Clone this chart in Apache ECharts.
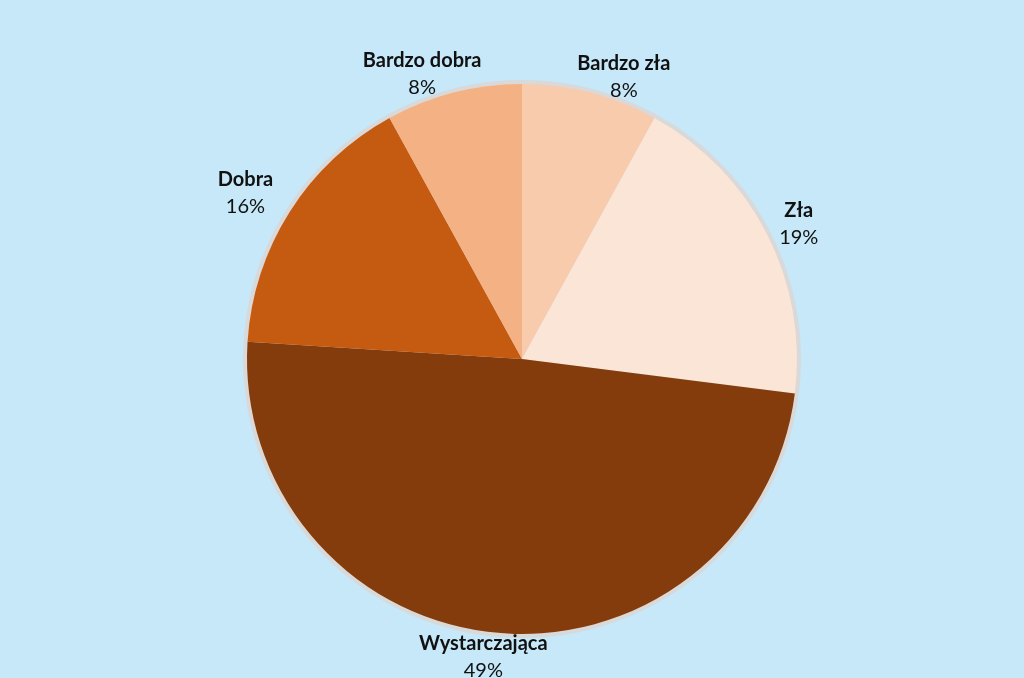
<!DOCTYPE html>
<html>
<head>
<meta charset="utf-8">
<script src="https://cdn.jsdelivr.net/npm/echarts@6/dist/echarts.min.js"></script>
<style>
  html, body { margin: 0; padding: 0; background: #c6e8f8; }
  #chart { width: 1024px; height: 678px; }
</style>
</head>
<body>
<div id="chart"></div>
<script>
// Ocena (rating) shares, clockwise from 12 o'clock
const categories = ['Bardzo zła', 'Zła', 'Wystarczająca', 'Dobra', 'Bardzo dobra'];
const values = [8, 19, 49, 16, 8];
const sliceColors = ['#f8cbad', '#fbe5d6', '#843c0c', '#c55a11', '#f4b183'];

// Pie geometry (pixels)
const CX = 522, CY = 359, R = 275;
const LABEL_DIST = R + 30;
// Small per-label nudges away from the plain mid-angle position
const labelNudge = [[26, 13], [5, 4], [-10, -6], [-19, -3], [-24, 10]];

const total = values.reduce((a, b) => a + b, 0);
const midAngles = [];
let acc = 0;
values.forEach(v => { midAngles.push((acc + v / 2) / total * 2 * Math.PI); acc += v; });

const chart = echarts.init(document.getElementById('chart'), null, { renderer: 'canvas' });

chart.setOption({
  backgroundColor: '#c6e8f8',
  animation: false,
  series: [
    {
      // light rim around the pie
      type: 'pie',
      silent: true,
      center: [CX, CY],
      radius: [0, R + 4],
      label: { show: false },
      labelLine: { show: false },
      itemStyle: { color: '#d9d9d9' },
      data: [{ value: 1, name: '' }],
      z: 1
    },
    {
      type: 'pie',
      center: [CX, CY],
      radius: [0, R],
      startAngle: 90,
      clockwise: true,
      z: 2,
      data: categories.map((c, i) => ({ name: c, value: values[i], itemStyle: { color: sliceColors[i] } })),
      itemStyle: { borderWidth: 0 },
      labelLine: { show: false },
      label: {
        show: true,
        position: 'outside',
        formatter: '{n|{b}}\n{p|{d}%}',
        rich: {
          n: { fontFamily: 'Lato', fontSize: 20, fontWeight: 'bold', color: '#111111', lineHeight: 27, align: 'center' },
          p: { fontFamily: 'Lato', fontSize: 20, fontWeight: 'normal', color: '#111111', lineHeight: 27, align: 'center' }
        }
      },
      labelLayout: function (params) {
        const i = params.dataIndex;
        const a = midAngles[i];
        return {
          x: CX + LABEL_DIST * Math.sin(a) + labelNudge[i][0],
          y: CY - LABEL_DIST * Math.cos(a) + labelNudge[i][1],
          align: 'center',
          verticalAlign: 'middle'
        };
      }
    }
  ]
});
</script>
</body>
</html>
